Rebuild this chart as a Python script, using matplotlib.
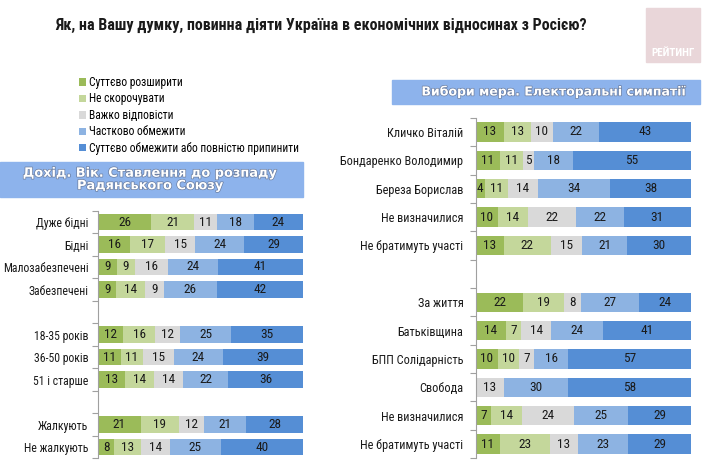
import numpy as np
import matplotlib.pyplot as plt
import matplotlib.patheffects as pe
from matplotlib.patches import Rectangle

plt.rcParams['font.family'] = ['Roboto Condensed', 'Liberation Sans', 'DejaVu Sans']

# Data
title = "Як, на Вашу думку, повинна діяти Україна в економічних відносинах з Росією?"
answers = ["Суттєво розширити", "Не скорочувати", "Важко відповісти",
           "Частково обмежити", "Суттєво обмежити або повністю припинити"]
colors = ["#9bbb59", "#c4d79b", "#d9d9d9", "#8db3e2", "#558ed5"]

left_header = "Дохід. Вік. Ставлення до розпаду\nРадянського Союзу"
left_labels = ["Дуже бідні", "Бідні", "Малозабезпечені", "Забезпечені", "",
               "18-35 років", "36-50 років", "51 і старше", "",
               "Жалкують", "Не жалкують"]
left_values = [
    [26, 21, 11, 18, 24],
    [16, 17, 15, 24, 29],
    [9, 9, 16, 24, 41],
    [9, 14, 9, 26, 42],
    None,
    [12, 16, 12, 25, 35],
    [11, 11, 15, 24, 39],
    [13, 14, 14, 22, 36],
    None,
    [21, 19, 12, 21, 28],
    [8, 13, 14, 25, 40],
]

right_header = "Вибори мера. Електоральні симпатії"
right_labels = ["Кличко Віталій", "Бондаренко Володимир", "Береза Борислав",
                "Не визначилися", "Не братимуть участі", "",
                "За життя", "Батьківщина", "БПП Солідарність", "Свобода",
                "Не визначилися", "Не братимуть участі"]
right_values = [
    [13, 13, 10, 22, 43],
    [11, 11, 5, 18, 55],
    [4, 11, 14, 34, 38],
    [10, 14, 22, 22, 31],
    [13, 22, 15, 21, 30],
    None,
    [22, 19, 8, 27, 24],
    [14, 7, 14, 24, 41],
    [10, 10, 7, 16, 57],
    [0, 0, 13, 30, 58],
    [7, 14, 24, 25, 29],
    [11, 23, 13, 23, 29],
]

W, H = 705, 465
fig = plt.figure(figsize=(W / 100, H / 100), dpi=100)


def px_axes(x0, y0, x1, y1):
    return fig.add_axes([x0 / W, 1 - y1 / H, (x1 - x0) / W, (y1 - y0) / H])


def draw_bars(ax, labels, values, bar_h, label_size, pad):
    n = len(labels)
    handles = []
    for i, row in enumerate(values):
        if row is None:
            continue
        total = sum(row)
        left = 0
        for j, v in enumerate(row):
            w = v / total * 100
            b = ax.barh(i, w, left=left, height=bar_h, color=colors[j],
                        edgecolor="none")
            if i == 0:
                handles.append(b)
            if v > 0:
                ax.text(left + w / 2, i, str(v), ha="center", va="center",
                        fontsize=9.5, color="#1a1a1a")
            left += w
    ax.set_xlim(0, 100)
    ax.set_ylim(n - 0.5, -0.5)
    ax.set_yticks(range(n))
    ax.set_yticklabels(labels, fontsize=label_size, color="#1a1a1a")
    ax.set_yticks(np.arange(-0.5, n, 1.0), minor=True)
    ax.tick_params(axis="y", which="major", length=0, pad=pad)
    ax.tick_params(axis="y", which="minor", length=4, color="#a0a0a0", width=0.8)
    ax.set_xticks([])
    for s in ["top", "right", "bottom"]:
        ax.spines[s].set_visible(False)
    ax.spines["left"].set_color("#a0a0a0")
    ax.spines["left"].set_linewidth(0.8)
    ax.set_facecolor("none")
    return handles


# title
fig.text(55 / W, 1 - 25 / H, title, ha="left", va="center",
         fontsize=11.5, fontweight="bold", color="#1a1a1a")

# logo
fig.patches.append(Rectangle((646 / W, 1 - 62 / H), 54 / W, 54 / H,
                             transform=fig.transFigure, color="#e9d6d9"))
fig.text(673 / W, 1 - 53 / H, "РЕЙТИНГ", ha="center", va="center",
         fontsize=8, fontweight="bold", color="white")

# section headers
stroke = [pe.withStroke(linewidth=1.0, foreground="#6a7da0")]
fig.patches.append(Rectangle((0, 1 - 197 / H), 303 / W, 35 / H,
                             transform=fig.transFigure, color="#8db3ec"))
fig.text(150 / W, 1 - 179.5 / H, left_header, ha="center", va="center",
         fontsize=9.3, fontweight="heavy", color="white", linespacing=0.95,
         family="DejaVu Sans", path_effects=stroke)
fig.patches.append(Rectangle((392 / W, 1 - 104 / H), 308 / W, 24 / H,
                             transform=fig.transFigure, color="#8db3ec"))
fig.text(553 / W, 1 - 92 / H, right_header, ha="center", va="center",
         fontsize=9, fontweight="heavy", color="white",
         family="DejaVu Sans", path_effects=stroke)

ax1 = px_axes(98, 210.75, 303, 458.25)
handles = draw_bars(ax1, left_labels, left_values, 0.72, 8.5, 7)

ax2 = px_axes(476, 117.8, 691, 458.2)
draw_bars(ax2, right_labels, right_values, 0.68, 8.8, 9)

fig.legend(handles, answers, loc="upper left",
           bbox_to_anchor=(79 / W, 1 - 76 / H), frameon=False,
           fontsize=8.3, handlelength=0.6, handleheight=0.6,
           handletextpad=0.25, labelspacing=0.3, borderaxespad=0,
           borderpad=0)

fig.savefig("out.png", dpi=100)
